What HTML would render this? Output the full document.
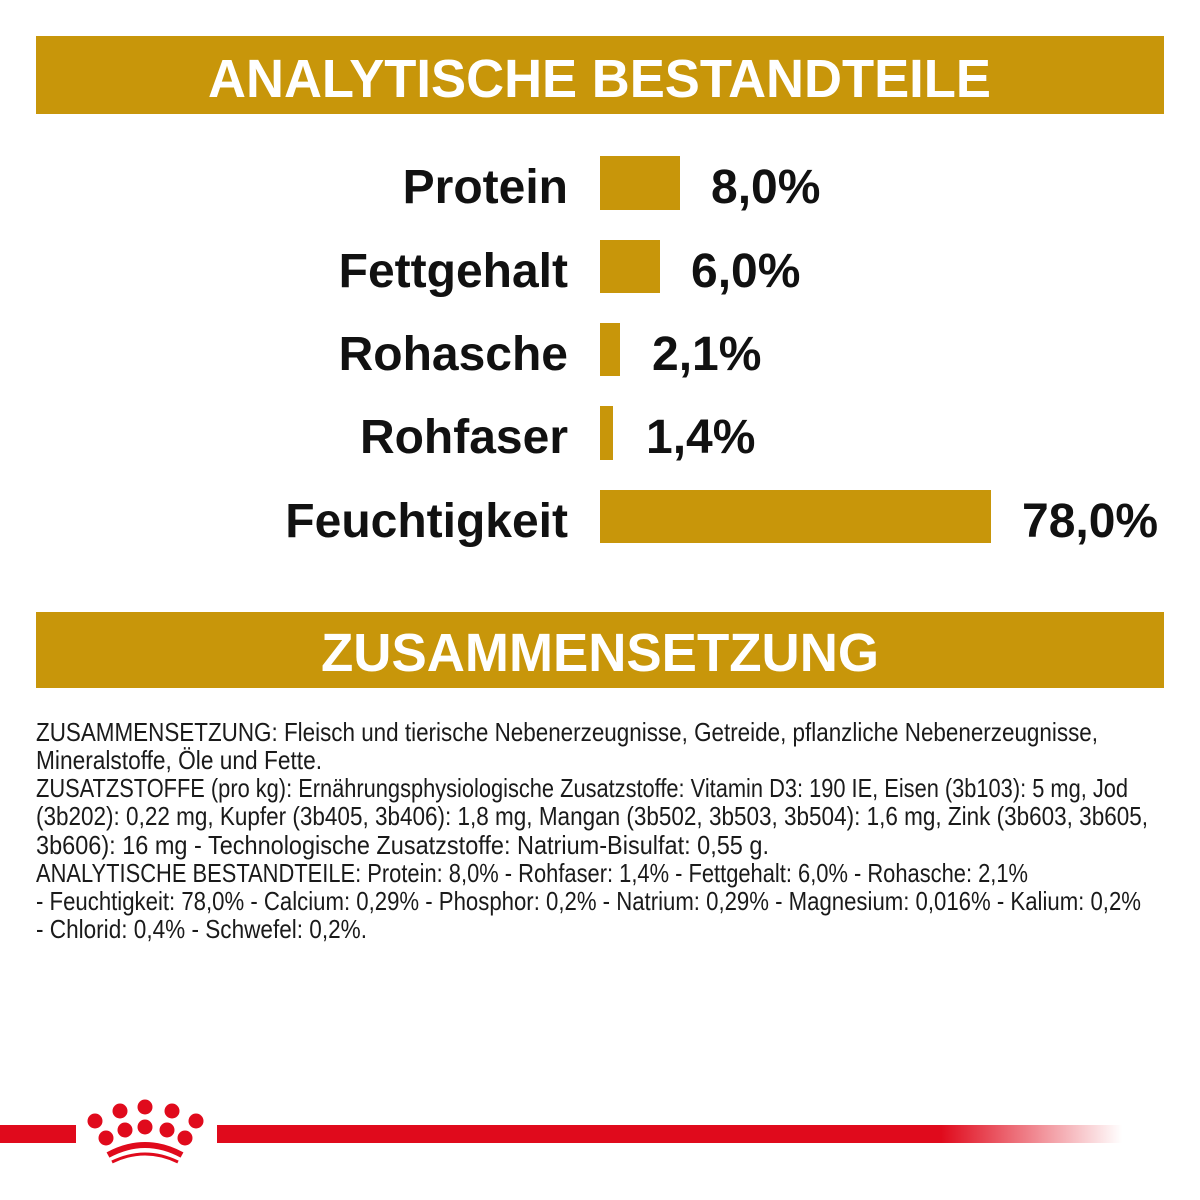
<!DOCTYPE html>
<html><head><meta charset="utf-8"><style>
html,body{margin:0;padding:0;background:#fff;}
svg{display:block}
</style></head><body>
<svg width="1200" height="1200" viewBox="0 0 1200 1200" xmlns="http://www.w3.org/2000/svg">
<defs>
<linearGradient id="fade" x1="0" x2="1" y1="0" y2="0">
<stop offset="0" stop-color="#e00a1c"/>
<stop offset="0.8" stop-color="#e00a1c"/>
<stop offset="1" stop-color="#e00a1c" stop-opacity="0"/>
</linearGradient>
</defs>
<rect x="36" y="36" width="1128" height="78" fill="#c8960a"/>
<text x="208" y="97" font-family="Liberation Sans, sans-serif" font-weight="bold" font-size="54" fill="#fff" textLength="783" lengthAdjust="spacingAndGlyphs">ANALYTISCHE BESTANDTEILE</text>
<g font-family="Liberation Sans, sans-serif" font-weight="bold" font-size="48" fill="#111">
<text x="568" y="203" text-anchor="end">Protein</text>
<text x="568" y="287" text-anchor="end">Fettgehalt</text>
<text x="568" y="370" text-anchor="end">Rohasche</text>
<text x="568" y="453" text-anchor="end">Rohfaser</text>
<text x="568" y="537" text-anchor="end">Feuchtigkeit</text>
<text x="711" y="203">8,0%</text>
<text x="691" y="287">6,0%</text>
<text x="652" y="370">2,1%</text>
<text x="646" y="453">1,4%</text>
<text x="1022" y="537">78,0%</text>
</g>
<g fill="#c8960a">
<rect x="600" y="156" width="80" height="54"/>
<rect x="600" y="240" width="60" height="53"/>
<rect x="600" y="323" width="20" height="53"/>
<rect x="600" y="406" width="13" height="54"/>
<rect x="600" y="490" width="391" height="53"/>
</g>
<rect x="36" y="612" width="1128" height="76" fill="#c8960a"/>
<text x="321" y="671" font-family="Liberation Sans, sans-serif" font-weight="bold" font-size="54" fill="#fff" textLength="558" lengthAdjust="spacingAndGlyphs">ZUSAMMENSETZUNG</text>
<g font-family="Liberation Sans Narrow, Liberation Sans, sans-serif" font-size="26" fill="#1a1a1a" lengthAdjust="spacingAndGlyphs">
<text x="36" y="741" textLength="1062" lengthAdjust="spacingAndGlyphs">ZUSAMMENSETZUNG: Fleisch und tierische Nebenerzeugnisse, Getreide, pflanzliche Nebenerzeugnisse,</text>
<text x="36" y="769" textLength="286" lengthAdjust="spacingAndGlyphs">Mineralstoffe, Öle und Fette.</text>
<text x="36" y="797" textLength="1092" lengthAdjust="spacingAndGlyphs">ZUSATZSTOFFE (pro kg): Ernährungsphysiologische Zusatzstoffe: Vitamin D3: 190 IE, Eisen (3b103): 5 mg, Jod</text>
<text x="36" y="825" textLength="1112" lengthAdjust="spacingAndGlyphs">(3b202): 0,22 mg, Kupfer (3b405, 3b406): 1,8 mg, Mangan (3b502, 3b503, 3b504): 1,6 mg, Zink (3b603, 3b605,</text>
<text x="36" y="854" textLength="733" lengthAdjust="spacingAndGlyphs">3b606): 16 mg - Technologische Zusatzstoffe: Natrium-Bisulfat: 0,55 g.</text>
<text x="36" y="882" textLength="992" lengthAdjust="spacingAndGlyphs">ANALYTISCHE BESTANDTEILE: Protein: 8,0% - Rohfaser: 1,4% - Fettgehalt: 6,0% - Rohasche: 2,1%</text>
<text x="36" y="910" textLength="1105" lengthAdjust="spacingAndGlyphs">- Feuchtigkeit: 78,0% - Calcium: 0,29% - Phosphor: 0,2% - Natrium: 0,29% - Magnesium: 0,016% - Kalium: 0,2%</text>
<text x="36" y="938" textLength="331" lengthAdjust="spacingAndGlyphs">- Chlorid: 0,4% - Schwefel: 0,2%.</text>
</g>
<rect x="0" y="1125" width="76" height="18" fill="#e00a1c"/>
<rect x="217" y="1125" width="905" height="18" fill="url(#fade)"/>
<g fill="#e00a1c">
<circle cx="95" cy="1121" r="7.5"/>
<circle cx="120" cy="1111" r="7.5"/>
<circle cx="145" cy="1107" r="7.5"/>
<circle cx="172" cy="1111" r="7.5"/>
<circle cx="196" cy="1121" r="7.5"/>
<circle cx="106" cy="1138" r="7.5"/>
<circle cx="125" cy="1130" r="7.5"/>
<circle cx="145" cy="1127" r="7.5"/>
<circle cx="167" cy="1130" r="7.5"/>
<circle cx="185" cy="1138" r="7.5"/>
</g>
<path d="M108 1155 Q145 1135 182 1155" stroke="#e00a1c" stroke-width="6" fill="none"/>
<path d="M112 1162 Q145 1146 178 1162" stroke="#e00a1c" stroke-width="3" fill="none"/>
</svg>
</body></html>
